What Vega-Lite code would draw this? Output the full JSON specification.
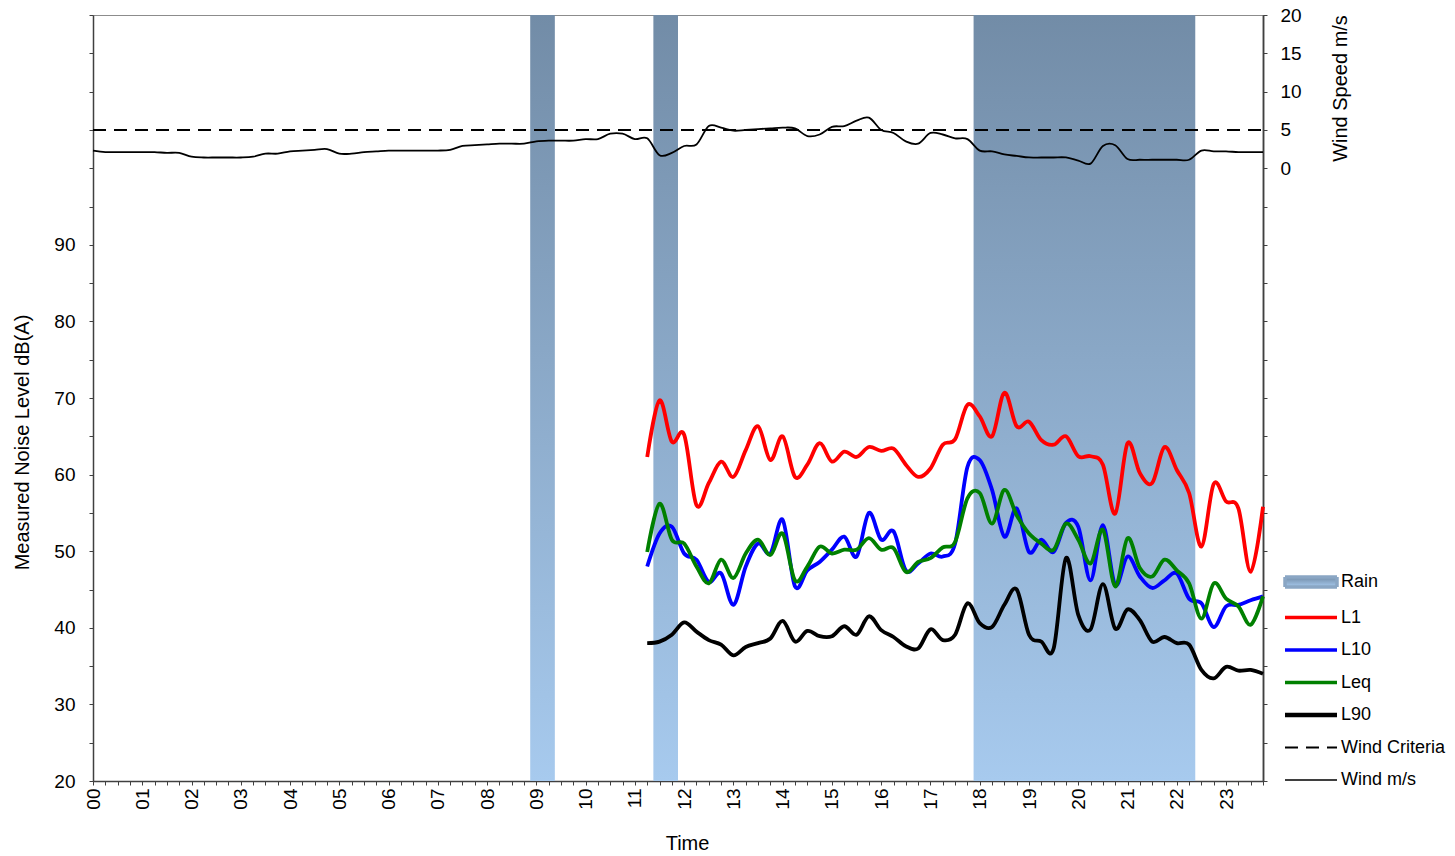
{
  "$schema": "https://vega.github.io/schema/vega-lite/v6.json",
  "width": 1170,
  "height": 766,
  "autosize": {"type": "none"},
  "padding": {"left": 93, "top": 15, "right": 192, "bottom": 75},
  "background": "white",
  "config": {
    "font": "Liberation Sans",
    "view": {"stroke": "#8c8c8c", "strokeWidth": 1},
    "axis": {
      "grid": false,
      "domainColor": "#404040",
      "domainWidth": 1.5,
      "tickColor": "#404040",
      "tickWidth": 1,
      "tickSize": 4,
      "labelColor": "#000000",
      "labelFontSize": 19,
      "labelOverlap": false,
      "labelFlush": false,
      "titleColor": "#000000",
      "titleFontSize": 20,
      "titleFontWeight": "normal"
    }
  },
  "datasets": {
    "rain": [
      {"t": 8.875, "end": 9.375},
      {"t": 11.375, "end": 11.875},
      {"t": 17.875, "end": 22.375}
    ],
    "noise": [
      {"t": 11.25, "L1": 62.3, "L10": 48.0, "Leq": 49.9, "L90": 38.0},
      {"t": 11.5, "L1": 69.7, "L10": 52.3, "Leq": 56.2, "L90": 38.2},
      {"t": 11.75, "L1": 64.3, "L10": 53.2, "Leq": 51.5, "L90": 39.1},
      {"t": 12.0, "L1": 65.2, "L10": 49.7, "Leq": 51.0, "L90": 40.7},
      {"t": 12.25, "L1": 56.0, "L10": 48.9, "Leq": 48.0, "L90": 39.5},
      {"t": 12.5, "L1": 58.9, "L10": 46.0, "Leq": 45.8, "L90": 38.4},
      {"t": 12.75, "L1": 61.7, "L10": 47.1, "Leq": 48.9, "L90": 37.8},
      {"t": 13.0, "L1": 59.7, "L10": 43.0, "Leq": 46.5, "L90": 36.4},
      {"t": 13.25, "L1": 63.2, "L10": 48.0, "Leq": 49.7, "L90": 37.5},
      {"t": 13.5, "L1": 66.3, "L10": 51.0, "Leq": 51.5, "L90": 38.0},
      {"t": 13.75, "L1": 61.9, "L10": 49.7, "Leq": 49.5, "L90": 38.6},
      {"t": 14.0, "L1": 65.0, "L10": 54.1, "Leq": 52.3, "L90": 40.9},
      {"t": 14.25, "L1": 59.7, "L10": 45.4, "Leq": 46.2, "L90": 38.2},
      {"t": 14.5, "L1": 61.3, "L10": 47.5, "Leq": 48.0, "L90": 39.6},
      {"t": 14.75, "L1": 64.1, "L10": 48.6, "Leq": 50.6, "L90": 38.9},
      {"t": 15.0, "L1": 61.7, "L10": 50.2, "Leq": 49.7, "L90": 38.9},
      {"t": 15.25, "L1": 63.0, "L10": 51.9, "Leq": 50.2, "L90": 40.2},
      {"t": 15.5, "L1": 62.3, "L10": 49.3, "Leq": 50.2, "L90": 39.1},
      {"t": 15.75, "L1": 63.6, "L10": 55.0, "Leq": 51.7, "L90": 41.5},
      {"t": 16.0, "L1": 63.1, "L10": 51.5, "Leq": 50.2, "L90": 39.7},
      {"t": 16.25, "L1": 63.4, "L10": 52.6, "Leq": 50.4, "L90": 38.8},
      {"t": 16.5, "L1": 61.3, "L10": 47.5, "Leq": 47.3, "L90": 37.6},
      {"t": 16.75, "L1": 59.7, "L10": 48.4, "Leq": 48.6, "L90": 37.3},
      {"t": 17.0, "L1": 60.8, "L10": 49.7, "Leq": 49.1, "L90": 39.8},
      {"t": 17.25, "L1": 63.9, "L10": 49.3, "Leq": 50.5, "L90": 38.4},
      {"t": 17.5, "L1": 64.6, "L10": 51.0, "Leq": 51.2, "L90": 39.1},
      {"t": 17.75, "L1": 69.1, "L10": 61.0, "Leq": 56.9, "L90": 43.2},
      {"t": 18.0, "L1": 67.6, "L10": 61.9, "Leq": 57.6, "L90": 40.6},
      {"t": 18.25, "L1": 65.0, "L10": 58.0, "Leq": 53.6, "L90": 40.1},
      {"t": 18.5, "L1": 70.7, "L10": 51.9, "Leq": 58.0, "L90": 43.0},
      {"t": 18.75, "L1": 66.3, "L10": 55.6, "Leq": 54.7, "L90": 45.0},
      {"t": 19.0, "L1": 66.9, "L10": 49.9, "Leq": 52.3, "L90": 39.1},
      {"t": 19.25, "L1": 64.5, "L10": 51.5, "Leq": 51.0, "L90": 38.2},
      {"t": 19.5, "L1": 63.9, "L10": 49.9, "Leq": 50.2, "L90": 37.3},
      {"t": 19.75, "L1": 65.0, "L10": 53.7, "Leq": 53.6, "L90": 49.1},
      {"t": 20.0, "L1": 62.4, "L10": 53.2, "Leq": 51.5, "L90": 41.7},
      {"t": 20.25, "L1": 62.4, "L10": 46.2, "Leq": 48.4, "L90": 39.8},
      {"t": 20.5, "L1": 61.3, "L10": 53.4, "Leq": 52.8, "L90": 45.7},
      {"t": 20.75, "L1": 54.9, "L10": 45.6, "Leq": 45.4, "L90": 39.9},
      {"t": 21.0, "L1": 64.1, "L10": 49.3, "Leq": 51.7, "L90": 42.4},
      {"t": 21.25, "L1": 60.2, "L10": 46.7, "Leq": 47.8, "L90": 41.0},
      {"t": 21.5, "L1": 58.9, "L10": 45.2, "Leq": 46.7, "L90": 38.2},
      {"t": 21.75, "L1": 63.6, "L10": 46.2, "Leq": 48.9, "L90": 38.8},
      {"t": 22.0, "L1": 60.6, "L10": 47.1, "Leq": 47.5, "L90": 38.0},
      {"t": 22.25, "L1": 57.6, "L10": 43.8, "Leq": 45.8, "L90": 37.8},
      {"t": 22.5, "L1": 50.6, "L10": 43.2, "Leq": 41.2, "L90": 34.5},
      {"t": 22.75, "L1": 58.8, "L10": 40.1, "Leq": 45.8, "L90": 33.4},
      {"t": 23.0, "L1": 56.5, "L10": 42.8, "Leq": 43.8, "L90": 34.9},
      {"t": 23.25, "L1": 55.6, "L10": 43.0, "Leq": 42.8, "L90": 34.4},
      {"t": 23.5, "L1": 47.3, "L10": 43.6, "Leq": 40.4, "L90": 34.5},
      {"t": 23.75, "L1": 55.8, "L10": 44.1, "Leq": 44.1, "L90": 34.0}
    ],
    "criteria": [
      {"t": 0, "wind": 5, "series": "Wind Criteria"},
      {"t": 23.75, "wind": 5, "series": "Wind Criteria"}
    ],
    "wind": [
      {"t": 0, "wind": 2.3}, {"t": 0.25, "wind": 2.1}, {"t": 0.5, "wind": 2.1}, {"t": 0.75, "wind": 2.1},
      {"t": 1, "wind": 2.1}, {"t": 1.25, "wind": 2.1}, {"t": 1.5, "wind": 2.0}, {"t": 1.75, "wind": 2.0},
      {"t": 2, "wind": 1.5}, {"t": 2.25, "wind": 1.4}, {"t": 2.5, "wind": 1.4}, {"t": 2.75, "wind": 1.4},
      {"t": 3, "wind": 1.4}, {"t": 3.25, "wind": 1.5}, {"t": 3.5, "wind": 1.9}, {"t": 3.75, "wind": 1.9},
      {"t": 4, "wind": 2.2}, {"t": 4.25, "wind": 2.3}, {"t": 4.5, "wind": 2.4}, {"t": 4.75, "wind": 2.5},
      {"t": 5, "wind": 1.9}, {"t": 5.25, "wind": 1.9}, {"t": 5.5, "wind": 2.1}, {"t": 5.75, "wind": 2.2},
      {"t": 6, "wind": 2.3}, {"t": 6.25, "wind": 2.3}, {"t": 6.5, "wind": 2.3}, {"t": 6.75, "wind": 2.3},
      {"t": 7, "wind": 2.3}, {"t": 7.25, "wind": 2.4}, {"t": 7.5, "wind": 2.9}, {"t": 7.75, "wind": 3.0},
      {"t": 8, "wind": 3.1}, {"t": 8.25, "wind": 3.2}, {"t": 8.5, "wind": 3.2}, {"t": 8.75, "wind": 3.2},
      {"t": 9, "wind": 3.5}, {"t": 9.25, "wind": 3.6}, {"t": 9.5, "wind": 3.6}, {"t": 9.75, "wind": 3.6},
      {"t": 10, "wind": 3.8}, {"t": 10.25, "wind": 3.8}, {"t": 10.5, "wind": 4.5}, {"t": 10.75, "wind": 4.5},
      {"t": 11, "wind": 3.8}, {"t": 11.25, "wind": 3.9}, {"t": 11.5, "wind": 1.7}, {"t": 11.75, "wind": 2.0},
      {"t": 12, "wind": 2.9}, {"t": 12.25, "wind": 3.1}, {"t": 12.5, "wind": 5.5}, {"t": 12.75, "wind": 5.3},
      {"t": 13, "wind": 4.9}, {"t": 13.25, "wind": 5.0}, {"t": 13.5, "wind": 5.1}, {"t": 13.75, "wind": 5.2},
      {"t": 14, "wind": 5.3}, {"t": 14.25, "wind": 5.2}, {"t": 14.5, "wind": 4.2}, {"t": 14.75, "wind": 4.4},
      {"t": 15, "wind": 5.4}, {"t": 15.25, "wind": 5.5}, {"t": 15.5, "wind": 6.2}, {"t": 15.75, "wind": 6.6},
      {"t": 16, "wind": 5.0}, {"t": 16.25, "wind": 4.6}, {"t": 16.5, "wind": 3.5}, {"t": 16.75, "wind": 3.2},
      {"t": 17, "wind": 4.6}, {"t": 17.25, "wind": 4.4}, {"t": 17.5, "wind": 3.9}, {"t": 17.75, "wind": 3.8},
      {"t": 18, "wind": 2.3}, {"t": 18.25, "wind": 2.2}, {"t": 18.5, "wind": 1.8}, {"t": 18.75, "wind": 1.6},
      {"t": 19, "wind": 1.4}, {"t": 19.25, "wind": 1.4}, {"t": 19.5, "wind": 1.4}, {"t": 19.75, "wind": 1.4},
      {"t": 20, "wind": 1.0}, {"t": 20.25, "wind": 0.6}, {"t": 20.5, "wind": 2.9}, {"t": 20.75, "wind": 3.0},
      {"t": 21, "wind": 1.2}, {"t": 21.25, "wind": 1.1}, {"t": 21.5, "wind": 1.1}, {"t": 21.75, "wind": 1.1},
      {"t": 22, "wind": 1.1}, {"t": 22.25, "wind": 1.1}, {"t": 22.5, "wind": 2.3}, {"t": 22.75, "wind": 2.2},
      {"t": 23, "wind": 2.2}, {"t": 23.25, "wind": 2.1}, {"t": 23.5, "wind": 2.1}, {"t": 23.75, "wind": 2.1}
    ]
  },
  "encoding": {
    "x": {
      "field": "t",
      "type": "quantitative",
      "scale": {"domain": [0, 23.75], "nice": false, "zero": false},
      "axis": {
        "values": [0,0.25,0.5,0.75,1,1.25,1.5,1.75,2,2.25,2.5,2.75,3,3.25,3.5,3.75,4,4.25,4.5,4.75,5,5.25,5.5,5.75,6,6.25,6.5,6.75,7,7.25,7.5,7.75,8,8.25,8.5,8.75,9,9.25,9.5,9.75,10,10.25,10.5,10.75,11,11.25,11.5,11.75,12,12.25,12.5,12.75,13,13.25,13.5,13.75,14,14.25,14.5,14.75,15,15.25,15.5,15.75,16,16.25,16.5,16.75,17,17.25,17.5,17.75,18,18.25,18.5,18.75,19,19.25,19.5,19.75,20,20.25,20.5,20.75,21,21.25,21.5,21.75,22,22.25,22.5,22.75,23,23.25,23.5,23.75],
        "labelExpr": "datum.value % 1 === 0 ? (datum.value < 10 ? '0' : '') + datum.value : ''",
        "labelAngle": 270,
        "labelAlign": "right",
        "labelBaseline": "middle",
        "labelFontSize": 19,
        "labelPadding": 3,
        "labelOverlap": false,
        "labelFlush": false,
        "title": "Time",
        "titleX": 594,
        "titleY": 62,
        "titleAlign": "center",
        "titleBaseline": "middle"
      }
    }
  },
  "layer": [
    {
      "data": {"name": "rain"},
      "mark": {
        "type": "rect",
        "fill": {
          "gradient": "linear",
          "x1": 0, "y1": 0, "x2": 0, "y2": 1,
          "stops": [
            {"offset": 0, "color": "#728CA7"},
            {"offset": 1, "color": "#A7CAEE"}
          ]
        }
      },
      "encoding": {
        "x2": {"field": "end"}
      }
    },
    {
      "data": {"name": "noise"},
      "transform": [{"fold": ["L1", "L10", "Leq", "L90"], "as": ["series", "db"]}],
      "mark": {"type": "line", "strokeWidth": 3.8, "interpolate": "cardinal"},
      "encoding": {
        "y": {
          "field": "db",
          "type": "quantitative",
          "scale": {"domain": [20, 120], "nice": false, "zero": false},
          "axis": {
            "orient": "left",
            "values": [20,25,30,35,40,45,50,55,60,65,70,75,80,85,90,95,100,105,110,115,120],
            "labelExpr": "datum.value % 10 === 0 && datum.value <= 90 ? datum.label : ''",
            "labelPadding": 14,
            "labelOverlap": false,
            "title": "Measured Noise Level dB(A)",
            "titleAngle": 270,
            "titleX": -71,
            "titleY": 427,
            "titleAlign": "center",
            "titleBaseline": "middle"
          }
        },
        "color": {
          "field": "series",
          "type": "nominal",
          "scale": {
            "domain": ["Rain", "L1", "L10", "Leq", "L90", "Wind Criteria", "Wind m/s"],
            "range": ["#8AA6C4", "#FF0000", "#0000FF", "#008000", "#000000", "#000000", "#000000"]
          },
          "legend": {
            "title": null,
            "orient": "none",
            "legendX": 1209,
            "legendY": 558,
            "padding": 0,
            "rowPadding": 14.5,
            "symbolSize": 100,
            "labelFontSize": 18,
            "labelColor": "#000000",
            "labelOffset": 21,
            "labelLimit": 300,
            "encoding": {
              "symbols": {
                "shape": {"condition": {"test": "datum.value === 'Rain'", "value": "M-5.2,-1H5.2V1H-5.2Z"}, "value": "M-5.2,0H5.2"},
                "fill": {
                  "condition": {
                    "test": "datum.value === 'Rain'",
                    "value": {"gradient": "linear", "x1": 0, "y1": 0, "x2": 0, "y2": 1, "stops": [{"offset": 0, "color": "#728CA7"}, {"offset": 1, "color": "#A7CAEE"}]}
                  },
                  "value": "transparent"
                },
                "stroke": {"value": {"expr": "datum.value === 'Rain' ? 'transparent' : scale('color', datum.value)"}},
                "strokeWidth": {"value": {"expr": "datum.value === 'L90' ? 4.5 : datum.value === 'Wind Criteria' ? 2 : datum.value === 'Wind m/s' ? 1.5 : 3.5"}},
                "strokeDash": {"value": {"expr": "datum.value === 'Wind Criteria' ? [13, 8] : [1, 0]"}},
                "opacity": {"value": 1}
              }
            }
          }
        }
      }
    },
    {
      "resolve": {"axis": {"y": "independent"}},
      "layer": [
        {
          "data": {"name": "criteria"},
          "mark": {"type": "line", "strokeWidth": 2, "strokeDash": [13, 8]},
          "encoding": {
            "y": {
              "field": "wind",
              "type": "quantitative",
              "scale": {"domain": [-80, 20], "nice": false, "zero": false},
              "axis": {
                "orient": "right",
                "values": [0, 5, 10, 15, 20],
                "labelPadding": 13,
                "labelOverlap": false,
                "title": "Wind Speed m/s",
                "titleAngle": 270,
                "titleX": 77,
                "titleY": 73,
                "titleAlign": "center",
                "titleBaseline": "middle"
              }
            },
            "color": {
              "field": "series",
              "type": "nominal",
              "scale": {
                "domain": ["Rain", "L1", "L10", "Leq", "L90", "Wind Criteria", "Wind m/s"],
                "range": ["#8AA6C4", "#FF0000", "#0000FF", "#008000", "#000000", "#000000", "#000000"]
              },
              "legend": null
            }
          }
        },
        {
          "data": {"name": "wind"},
          "transform": [{"calculate": "'Wind m/s'", "as": "series"}],
          "mark": {"type": "line", "strokeWidth": 1.8, "interpolate": "cardinal"},
          "encoding": {
            "y": {
              "field": "wind",
              "type": "quantitative",
              "scale": {"domain": [-80, 20], "nice": false, "zero": false},
              "axis": {
                "orient": "right",
                "values": [-80,-75,-70,-65,-60,-55,-50,-45,-40,-35,-30,-25,-20,-15,-10,-5],
                "labels": false,
                "title": null
              }
            },
            "color": {
              "field": "series",
              "type": "nominal",
              "scale": {
                "domain": ["Rain", "L1", "L10", "Leq", "L90", "Wind Criteria", "Wind m/s"],
                "range": ["#8AA6C4", "#FF0000", "#0000FF", "#008000", "#000000", "#000000", "#000000"]
              },
              "legend": null
            }
          }
        }
      ]
    }
  ],
  "resolve": {"scale": {"y": "independent"}}
}
